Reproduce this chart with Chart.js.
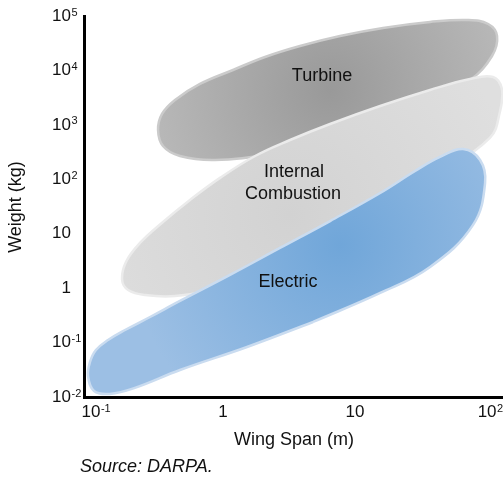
<!DOCTYPE html>
<html>
<head>
<meta charset="utf-8">
<script src="https://cdn.jsdelivr.net/npm/chart.js@4.4.1/dist/chart.umd.min.js"></script>
<style>
  body { margin: 0; background: #fff; }
  canvas { display: block; }
</style>
</head>
<body>
<canvas id="myChart" width="503" height="477"></canvas>
<script>
// tick values and their labels (a ^ marks the superscript part)
var xTicks = [0.1, 1, 10, 100];
var xTickLabels = ['10^-1', '1', '10', '10^2'];
var yTicks = [0.01, 0.1, 1, 10, 100, 1000, 10000, 100000];
var yTickLabels = ['10^-2', '10^-1', '1', '10', '10^2', '10^3', '10^4', '10^5'];

// outlines of the three regions, wing span (m) / weight (kg)
var turbineX = [31.1, 7.70, 2.27, 0.870, 0.472, 0.351, 0.322, 0.345, 0.433, 0.669, 1.19, 2.08, 3.83, 7.70, 16.3, 37.0, 70.5, 102, 119, 109, 74.3];
var turbineY = [2040, 624, 292, 226, 268, 409, 805, 1585, 2865, 5640, 10190, 17660, 28100, 42900, 60300, 77600, 84500, 71300, 42900, 18400, 6670];

var combustionX = [13.0, 3.22, 0.949, 0.433, 0.257, 0.191, 0.172, 0.184, 0.235, 0.351, 0.562, 0.949, 1.75, 3.22, 6.47, 15.5, 37.0, 74.3, 111, 130, 125, 105, 44.0];
var combustionY = [22.1, 3.58, 1.05, 0.718, 0.748, 0.925, 1.41, 3.02, 6.76, 16.4, 41.7, 106, 268, 527, 1037, 2220, 4370, 6960, 7570, 4370, 1722, 574, 136];

var electricX = [4.81, 1.52, 0.472, 0.215, 0.139, 0.1054, 0.0949, 0.0983, 0.109, 0.1346, 0.181, 0.280, 0.472, 1.13, 2.70, 6.47, 15.5, 28.5, 44.0, 65.8, 88.5, 96.6, 78.3, 37.0, 15.5];
var electricY = [0.239, 0.083, 0.0313, 0.0147, 0.0114, 0.0129, 0.0243, 0.0440, 0.0731, 0.1115, 0.170, 0.295, 0.581, 1.75, 5.47, 17.1, 56.0, 142, 257, 360, 226, 85.5, 14.5, 2.45, 0.815];

var FONT = '"Liberation Sans", Arial, sans-serif';

function toPoints(xs, ys) {
    var pts = xs.map(function(x, i) { return {x: x, y: ys[i]}; });
    pts.push({x: xs[0], y: ys[0]});   // close the loop
    return pts;
}

// radial shading, centre given in axis units
function radial(cxv, cyv, inner, outer, r) {
    return function(ctx) {
        var chart = ctx.chart;
        if (!chart.chartArea || !chart.scales.x) return outer;
        var cx = chart.scales.x.getPixelForValue(cxv);
        var cy = chart.scales.y.getPixelForValue(cyv);
        var g = chart.ctx.createRadialGradient(cx, cy, 0, cx, cy, r);
        g.addColorStop(0, inner);
        g.addColorStop(1, outer);
        return g;
    };
}

function blob(label, xs, ys, shade, rim, order) {
    return {
        label: label,
        data: toPoints(xs, ys),
        fill: 'shape',
        backgroundColor: shade,
        borderColor: rim,
        borderWidth: 2.5,
        tension: 0.4,
        pointRadius: 0,
        order: order
    };
}

function drawPow(c, text, x, y, align) {
    var parts = text.split('^');
    c.font = '17px ' + FONT;
    var bw = c.measureText(parts[0]).width;
    var bx = align === 'right' ? x - bw : x - bw / 2;
    c.textAlign = 'left';
    c.textBaseline = 'middle';
    c.fillText(parts[0], bx, y);
    if (parts[1]) {
        c.font = '11px ' + FONT;
        c.fillText(parts[1], bx + bw + 0.5, y - 3.5);
    }
}

var textPlugin = {
    id: 'texts',
    afterDraw: function(chart) {
        var c = chart.ctx, sx = chart.scales.x, sy = chart.scales.y;
        c.save();
        c.fillStyle = '#111';
        xTicks.forEach(function(v, i) { drawPow(c, xTickLabels[i], sx.getPixelForValue(v), 412, 'center'); });
        yTicks.forEach(function(v, i) { drawPow(c, yTickLabels[i], 71, sy.getPixelForValue(v), 'right'); });

        c.textAlign = 'center';
        c.textBaseline = 'middle';
        c.font = '18px ' + FONT;
        c.fillText('Wing Span (m)', 294, 440);
        c.save();
        c.translate(16, 207);
        c.rotate(-Math.PI / 2);
        c.fillText('Weight (kg)', 0, 0);
        c.restore();

        c.fillText('Turbine', 322, 76);
        c.fillText('Internal', 294, 172);
        c.fillText('Combustion', 293, 194);
        c.fillText('Electric', 288, 282);

        c.textAlign = 'left';
        c.font = 'italic 18px ' + FONT;
        c.fillText('Source: DARPA.', 80, 467);
        c.restore();
    }
};

var graphData = {
    type: 'line',
    data: {
        datasets: [
            blob('Electric', electricX, electricY,
                 radial(7.7, 6.2, '#70a6d9', '#9cbfe4', 210), '#cadcf0', 1),
            blob('Internal Combustion', combustionX, combustionY,
                 radial(3.2, 22, '#d2d2d2', '#dfdfdf', 230), '#ebebeb', 2),
            blob('Turbine', turbineX, turbineY,
                 radial(6.5, 4370, '#999999', '#bababa', 190), '#cbcbcb', 3)
        ]
    },
    options: {
        responsive: false,
        animation: false,
        devicePixelRatio: 1,
        layout: { padding: { top: 16, right: 0, left: 0, bottom: 0 } },
        plugins: { legend: { display: false }, tooltip: { enabled: false } },
        scales: {
            x: {
                type: 'logarithmic',
                min: 0.0885,
                max: 132,
                grid: { display: false, drawTicks: false },
                border: { display: true, color: '#000', width: 3 },
                ticks: { display: false },
                afterBuildTicks: function(s) { s.ticks = xTicks.map(function(v) { return {value: v}; }); },
                afterFit: function(s) { s.height = 80; }
            },
            y: {
                type: 'logarithmic',
                min: 0.01,
                max: 100000,
                grid: { display: false, drawTicks: false },
                border: { display: true, color: '#000', width: 3 },
                ticks: { display: false },
                afterBuildTicks: function(s) { s.ticks = yTicks.map(function(v) { return {value: v}; }); },
                afterFit: function(s) { s.width = 84; }
            }
        }
    },
    plugins: [textPlugin]
};

var ctx = document.getElementById('myChart').getContext('2d');
var myChart = new Chart(ctx, graphData);
</script>
</body>
</html>
